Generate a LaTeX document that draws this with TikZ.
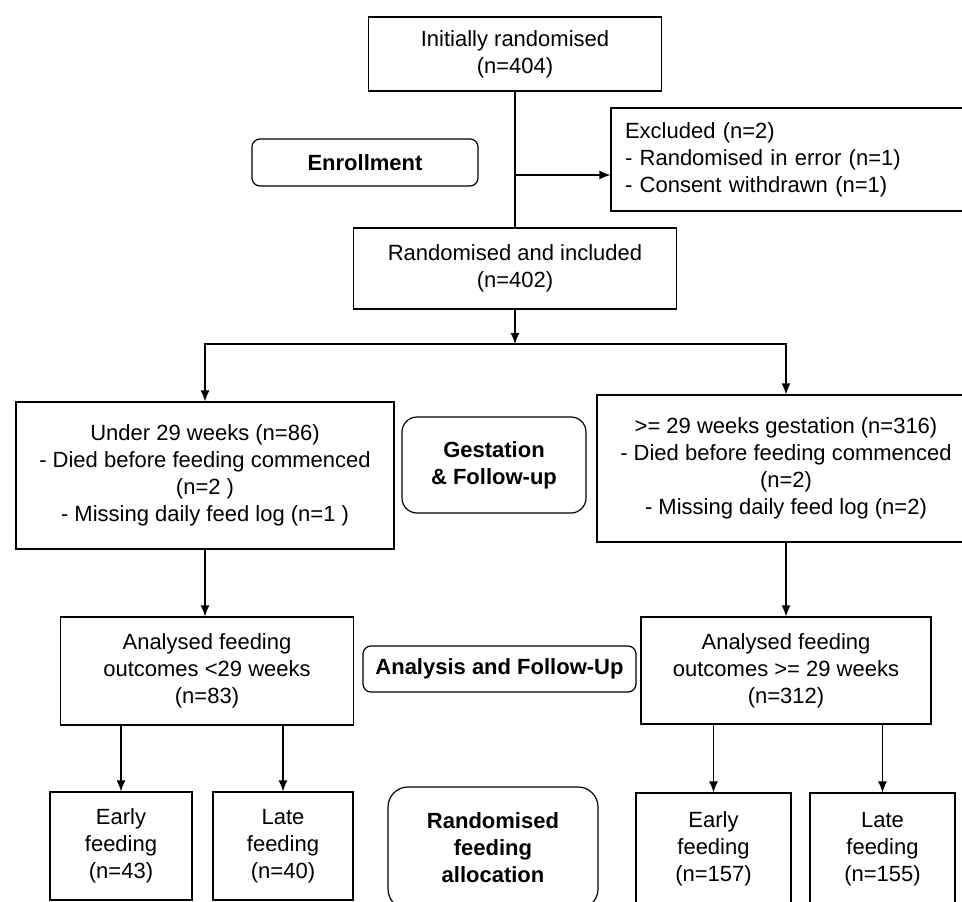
\documentclass[tikz,border=0pt]{standalone}
\usepackage{fontspec}
\setmainfont{Liberation Sans}
\usetikzlibrary{arrows.meta}

\tikzset{
	box/.style={draw, line width=1.2pt, align=center, inner sep=2pt, font=\fontsize{22}{27}\selectfont},
	stage/.style={box, rounded corners=8pt, font=\fontsize{22}{27}\selectfont\bfseries}
}

\begin{document}
\begin{tikzpicture}[x=1pt, y=-1pt, line width=1.2pt, >={Latex[length=11pt,width=9pt]}]
		\useasboundingbox (0,0) rectangle (962,902);
		
		\node[box, minimum width=293pt, minimum height=74pt] (init) at (515,54) {Initially randomised\\(n=404)};
		\node[box, minimum width=364pt, minimum height=103pt, align=left, text width=336pt, inner xsep=14pt] (excl) at (793,159.5) {Excluded (n=2)\\- Randomised in error (n=1)\\- Consent withdrawn (n=1)};
		\node[stage, minimum width=226pt, minimum height=47pt] (enroll) at (365,162.5) {Enrollment};
		\node[box, minimum width=323pt, minimum height=81pt] (incl) at (515,268.5) {Randomised and included\\(n=402)};
		
		\node[box, minimum width=378pt, minimum height=147pt] (under) at (205,475.5) {Under 29 weeks (n=86)\\- Died before feeding commenced\\(n=2 )\\- Missing daily feed log (n=1 )};
		\node[stage, rounded corners=15pt, minimum width=184pt, minimum height=96pt] (gest) at (494,465) {Gestation\\\& Follow-up};
		\node[box, minimum width=378pt, minimum height=147pt] (over) at (786,468.5) {>= 29 weeks gestation (n=316)\\- Died before feeding commenced\\(n=2)\\- Missing daily feed log (n=2)};
		
		\node[box, minimum width=293pt, minimum height=108pt] (anlow) at (207,671) {Analysed feeding\\outcomes <29 weeks\\(n=83)};
		\node[stage, minimum width=273pt, minimum height=46pt] (analysis) at (499.5,669) {Analysis and Follow-Up};
		\node[box, minimum width=290pt, minimum height=107pt] (anhigh) at (786,670.5) {Analysed feeding\\outcomes >= 29 weeks\\(n=312)};
		
		\node[box, minimum width=142pt, minimum height=108pt] (earlylow) at (121,846) {Early\\feeding\\(n=43)};
		\node[box, minimum width=140pt, minimum height=108pt] (latelow) at (283,846) {Late\\feeding\\(n=40)};
		\node[stage, rounded corners=20pt, minimum width=210pt, minimum height=122pt] (alloc) at (493,848) {Randomised\\feeding\\allocation};
		\node[box, minimum width=155pt, minimum height=112pt] (earlyhigh) at (713.5,849) {Early\\feeding\\(n=157)};
		\node[box, minimum width=145pt, minimum height=112pt] (latehigh) at (882.5,849) {Late\\feeding\\(n=155)};
		
		\coordinate (split) at (515,175);
		\coordinate (fork) at (515,344);
		
		\draw (init) -- (incl);
		\draw[->] (split) -- (split -| excl.west);
		\draw[->] (incl) -- (fork);
		\draw[->] (fork) -| (under);
		\draw[->] (fork) -| (over);
		\draw[->] (under.south) -- (under.south |- anlow.north);
		\draw[->] (over) -- (anhigh);
		\draw[->] (earlylow.north |- anlow.south) -- (earlylow);
		\draw[->] (latelow.north |- anlow.south) -- (latelow);
		\draw[->] (earlyhigh.north |- anhigh.south) -- (earlyhigh);
		\draw[->] (latehigh.north |- anhigh.south) -- (latehigh);
	\end{tikzpicture}
\end{document}
